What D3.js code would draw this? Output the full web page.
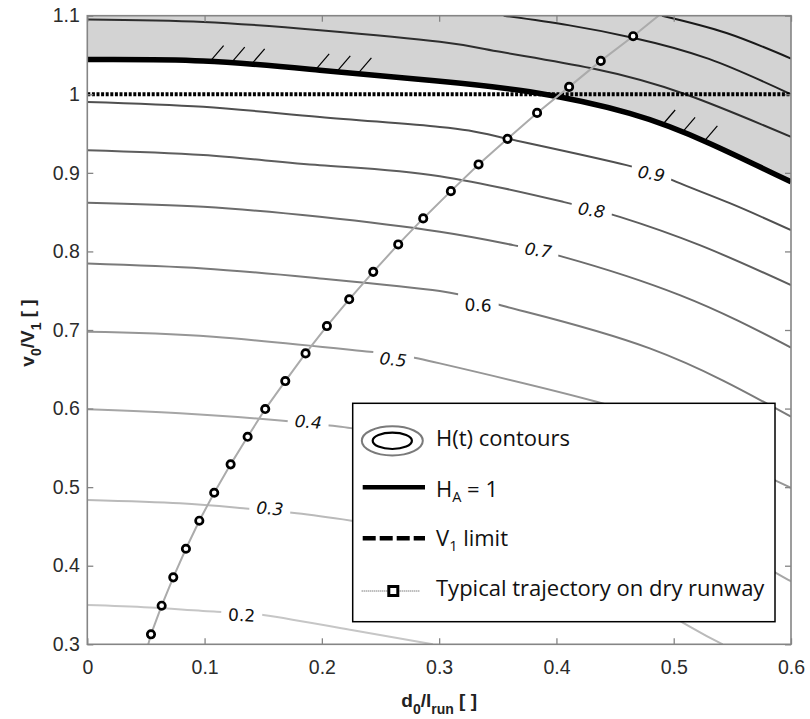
<!DOCTYPE html>
<html>
<head>
<meta charset="utf-8">
<script src="https://cdn.jsdelivr.net/npm/d3@7"></script>
<style>
  html, body { margin: 0; padding: 0; background: #fff; }
  svg { display: block; }
</style>
</head>
<body>
<svg id="chart" width="810" height="719"></svg>
<script>
// ---- axis ticks ----
const xTicks = [0, 0.1, 0.2, 0.3, 0.4, 0.5, 0.6];
const xTickLabels = ["0", "0.1", "0.2", "0.3", "0.4", "0.5", "0.6"];
const yTicks = [0.3, 0.4, 0.5, 0.6, 0.7, 0.8, 0.9, 1.0, 1.1];
const yTickLabels = ["0.3", "0.4", "0.5", "0.6", "0.7", "0.8", "0.9", "1", "1.1"];

// ---- H(t) contour levels, each as [d0/lrun, v0/V1] points ----
const contour02 = [[0, 0.350], [0.0534, 0.3468], [0.1103, 0.3415], [0.150, 0.3373], [0.2253, 0.3182], [0.2836, 0.3029], [0.2946, 0.300]];
const contour03 = [[0, 0.4836], [0.079, 0.4794], [0.133, 0.4730], [0.1785, 0.4667], [0.2253, 0.4573], [0.300, 0.436], [0.400, 0.395], [0.460, 0.367], [0.5137, 0.3224], [0.5418, 0.300]];
const contour04 = [[0, 0.599], [0.079, 0.5939], [0.167, 0.5845], [0.2111, 0.5777], [0.2265, 0.5748], [0.300, 0.556], [0.400, 0.520], [0.500, 0.462], [0.586, 0.392], [0.600, 0.381]];
const contour05 = [[0, 0.6977], [0.1074, 0.6914], [0.2409, 0.6723], [0.3006, 0.6575], [0.4342, 0.6087], [0.500, 0.570], [0.586, 0.509], [0.600, 0.499]];
const contour06 = [[0, 0.7847], [0.0989, 0.7784], [0.1983, 0.7656], [0.3006, 0.7495], [0.3574, 0.7295], [0.4796, 0.6766], [0.600, 0.5896]];
const contour07 = [[0, 0.8618], [0.0989, 0.8567], [0.1983, 0.8440], [0.3006, 0.8249], [0.3631, 0.8080], [0.4057, 0.7931], [0.5052, 0.7444], [0.600, 0.6776]];
const contour08 = [[0, 0.9289], [0.0989, 0.9226], [0.1983, 0.9098], [0.3006, 0.8958], [0.4057, 0.8631], [0.454, 0.8440], [0.5222, 0.8080], [0.600, 0.7571]];
const contour09 = [[0, 0.9903], [0.0989, 0.9840], [0.1983, 0.9712], [0.3006, 0.9585], [0.3574, 0.9438], [0.4597, 0.9098], [0.5023, 0.8885], [0.5478, 0.8614], [0.600, 0.8271]];
const contour11 = [[0, 1.0952], [0.0989, 1.0921], [0.1983, 1.0815], [0.3006, 1.0667], [0.352, 1.054], [0.43, 1.033], [0.51, 1.000], [0.600, 0.9458]];
const contour12 = [[0.355, 1.100], [0.41, 1.088], [0.465, 1.072], [0.53, 1.045], [0.600, 1.000]];
const contour13 = [[0.49, 1.100], [0.545, 1.078], [0.600, 1.0455]];

const contourLevels = [0.2, 0.3, 0.4, 0.5, 0.6, 0.7, 0.8, 0.9, 1.1, 1.2, 1.3];
const contourLines = [contour02, contour03, contour04, contour05, contour06, contour07, contour08, contour09, contour11, contour12, contour13];
const contourColors = ["#c6c6c6", "#bababa", "#a6a6a6", "#969696", "#7a7a7a", "#6c6c6c", "#5e5e5e", "#505050", "#2e2e2e", "#222222", "#1a1a1a"];

// ---- H_A = 1 boundary ----
const haLine = [[0, 1.0443], [0.0989, 1.0425], [0.1983, 1.0307], [0.2963, 1.0173], [0.3773, 1.0031], [0.4625, 0.9756], [0.5307, 0.9374], [0.600, 0.8885]];
const hatchX = [0.106, 0.124, 0.141, 0.196, 0.214, 0.232, 0.491, 0.508, 0.527];

// ---- V1 limit ----
const v1Limit = 1.0;

// ---- typical trajectory on dry runway ----
const trajectory = [
  [0.0543, 0.3127], [0.0634, 0.3491], [0.0733, 0.3852], [0.0841, 0.4216], [0.0955, 0.4573],
  [0.1082, 0.4929], [0.1222, 0.5290], [0.1367, 0.5641], [0.1517, 0.5994], [0.1688, 0.6350],
  [0.1861, 0.6702], [0.2043, 0.7050], [0.2233, 0.7391], [0.2438, 0.7740], [0.2651, 0.8089],
  [0.2864, 0.8420], [0.3100, 0.8767], [0.3336, 0.9107], [0.3583, 0.9433], [0.3835, 0.9763],
  [0.4108, 1.0094], [0.4378, 1.0425], [0.4654, 1.0739]
];
const trajectoryStart = [0.052, 0.300];
const trajectoryEnd = [0.487, 1.100];

// ---- contour labels ----
const contourLabelText = ["0.2", "0.3", "0.4", "0.5", "0.6", "0.7", "0.8", "0.9"];
const contourLabelPos = [[0.1316, 0.3373], [0.1557, 0.4730], [0.1884, 0.5832], [0.2608, 0.6626], [0.3332, 0.7317], [0.3844, 0.8017], [0.4299, 0.8526], [0.4810, 0.8992]];
const contourLabelAngle = [3, 4, 5, 6, 3, 8, 9, 10];
const contourLabelItalic = [false, true, true, true, false, true, true, true];

// ---- legend entries ----
const legendLabels = ["H(t) contours", "H_A = 1", "V_1 limit", "Typical trajectory on dry runway"];

// ================= drawing =================
const svg = d3.select("#chart");
const plot = { left: 87.3, right: 791, top: 15.7, bottom: 644.3 };

const x = d3.scaleLinear().domain([0, 0.6]).range([plot.left, plot.right]);
const y = d3.scaleLinear().domain([0.3, 1.1]).range([plot.bottom, plot.top]);

const defs = svg.append("defs");
defs.append("clipPath").attr("id", "plot-clip")
  .append("rect")
  .attr("x", plot.left).attr("y", plot.top)
  .attr("width", plot.right - plot.left).attr("height", plot.bottom - plot.top);

const curve = d3.curveNatural;
const line = d3.line().x(d => x(d[0])).y(d => y(d[1])).curve(curve);

const body = svg.append("g").attr("clip-path", "url(#plot-clip)");

// shaded region above H_A = 1
body.append("path")
  .datum(haLine)
  .attr("fill", "#d3d3d3")
  .attr("d", d3.area().x(d => x(d[0])).y0(d => y(d[1])).y1(y(1.1)).curve(curve));

// contour labels (measured first so the contour gaps can be sized)
const labelLayer = svg.append("g");
const labelGroups = labelLayer.selectAll("g")
  .data(contourLabelText.map((t, i) => ({ t, p: contourLabelPos[i], a: contourLabelAngle[i], it: contourLabelItalic[i] })))
  .join("g")
  .attr("transform", d => `translate(${x(d.p[0])},${y(d.p[1])}) rotate(${d.a})`);
labelGroups.append("text")
  .attr("text-anchor", "middle")
  .attr("dy", "0.36em")
  .attr("font-family", "DejaVu Sans, Verdana, sans-serif")
  .attr("font-size", 17)
  .attr("font-style", d => d.it ? "italic" : "normal")
  .attr("fill", "#111")
  .text(d => d.t);

// mask that breaks contour lines around their labels
const mask = defs.append("mask").attr("id", "label-gaps").attr("maskUnits", "userSpaceOnUse")
  .attr("x", 0).attr("y", 0).attr("width", 810).attr("height", 719);
mask.append("rect").attr("x", 0).attr("y", 0).attr("width", 810).attr("height", 719).attr("fill", "#fff");
labelGroups.each(function (d) {
  const bb = d3.select(this).select("text").node().getBBox();
  mask.append("rect")
    .attr("transform", `translate(${x(d.p[0])},${y(d.p[1])}) rotate(${d.a})`)
    .attr("x", bb.x - 7).attr("y", bb.y - 3)
    .attr("width", bb.width + 14).attr("height", bb.height + 6)
    .attr("fill", "#000");
});

// contour lines
body.append("g").attr("mask", "url(#label-gaps)")
  .selectAll("path")
  .data(contourLines)
  .join("path")
  .attr("fill", "none")
  .attr("stroke", (d, i) => contourColors[i])
  .attr("stroke-width", 2)
  .attr("d", line);

// H_A = 1 boundary
body.append("path")
  .datum(haLine)
  .attr("fill", "none")
  .attr("stroke", "#000")
  .attr("stroke-width", 5.5)
  .attr("d", line);

// hatch ticks on the unsafe side
const haY = d3.scaleLinear().domain(haLine.map(d => d[0])).range(haLine.map(d => d[1]));
body.append("g").selectAll("line")
  .data(hatchX)
  .join("line")
  .attr("x1", d => x(d)).attr("y1", d => y(haY(d)) - 2)
  .attr("x2", d => x(d) + 12).attr("y2", d => y(haY(d)) - 16)
  .attr("stroke", "#000").attr("stroke-width", 1.2);

// V1 limit
body.append("line")
  .attr("x1", x(0)).attr("x2", x(0.6))
  .attr("y1", y(v1Limit)).attr("y2", y(v1Limit))
  .attr("stroke", "#000").attr("stroke-width", 4)
  .attr("stroke-dasharray", "3,1.6");

// trajectory
body.append("path")
  .datum([trajectoryStart, ...trajectory, trajectoryEnd])
  .attr("fill", "none")
  .attr("stroke", "#ababab")
  .attr("stroke-width", 2)
  .attr("d", d3.line().x(d => x(d[0])).y(d => y(d[1])));
body.append("g").selectAll("circle")
  .data(trajectory)
  .join("circle")
  .attr("cx", d => x(d[0])).attr("cy", d => y(d[1]))
  .attr("r", 3.7)
  .attr("fill", "#fff")
  .attr("stroke", "#000")
  .attr("stroke-width", 2.7);

labelLayer.raise();

// ---- frame and ticks ----
const frame = svg.append("g");
frame.append("rect")
  .attr("x", plot.left).attr("y", plot.top)
  .attr("width", plot.right - plot.left).attr("height", plot.bottom - plot.top)
  .attr("fill", "none").attr("stroke", "#858585").attr("stroke-width", 1.6);

const tickLen = 6;
const axisBottom = d3.axisBottom(x).tickValues(xTicks).tickFormat((d, i) => xTickLabels[i]).tickSizeInner(-tickLen).tickSizeOuter(0).tickPadding(15.5);
const axisTop = d3.axisTop(x).tickValues(xTicks).tickFormat("").tickSizeInner(-tickLen).tickSizeOuter(0);
const axisLeft = d3.axisLeft(y).tickValues(yTicks).tickFormat((d, i) => yTickLabels[i]).tickSizeInner(-tickLen).tickSizeOuter(0).tickPadding(7.5);
const axisRight = d3.axisRight(y).tickValues(yTicks).tickFormat("").tickSizeInner(-tickLen).tickSizeOuter(0);

function styleAxis(g) {
  g.select(".domain").remove();
  g.selectAll(".tick line").attr("stroke", "#858585").attr("stroke-width", 1.3);
  g.selectAll(".tick text")
    .attr("font-family", "Liberation Sans, Arial, sans-serif")
    .attr("font-size", 19.5)
    .attr("fill", "#2b2b2b");
}
svg.append("g").attr("transform", `translate(0,${plot.bottom})`).call(axisBottom).call(styleAxis);
svg.append("g").attr("transform", `translate(0,${plot.top})`).call(axisTop).call(styleAxis);
svg.append("g").attr("transform", `translate(${plot.left},0)`).call(axisLeft).call(styleAxis);
svg.append("g").attr("transform", `translate(${plot.right},0)`).call(axisRight).call(styleAxis);

// axis titles
const xTitle = svg.append("text")
  .attr("x", (plot.left + plot.right) / 2).attr("y", 707)
  .attr("text-anchor", "middle")
  .attr("font-family", "Liberation Sans, Arial, sans-serif")
  .attr("font-size", 19).attr("font-weight", "bold").attr("fill", "#222");
xTitle.append("tspan").text("d");
xTitle.append("tspan").attr("font-size", 14).attr("dy", 7).text("0");
xTitle.append("tspan").attr("dy", -7).text("/l");
xTitle.append("tspan").attr("font-size", 14).attr("dy", 7).text("run");
xTitle.append("tspan").attr("dy", -7).text(" [ ]");

const yTitle = svg.append("text")
  .attr("transform", `translate(34,${(plot.top + plot.bottom) / 2 + 3}) rotate(-90)`)
  .attr("text-anchor", "middle")
  .attr("font-family", "Liberation Sans, Arial, sans-serif")
  .attr("font-size", 19).attr("font-weight", "bold").attr("fill", "#222");
yTitle.append("tspan").text("v");
yTitle.append("tspan").attr("font-size", 14).attr("dy", 7).text("0");
yTitle.append("tspan").attr("dy", -7).text("/V");
yTitle.append("tspan").attr("font-size", 14).attr("dy", 7).text("1");
yTitle.append("tspan").attr("dy", -7).text(" [ ]");

// ---- legend ----
const legend = svg.append("g");
legend.append("rect")
  .attr("x", 352.7).attr("y", 403.3).attr("width", 422.3).attr("height", 218.4)
  .attr("fill", "#fff").attr("stroke", "#000").attr("stroke-width", 1.5);

const legendFont = "Open Sans, Lato, sans-serif";
const legendTextX = 436;
const legendBaselines = [446, 497, 546, 596];

// contour icon
legend.append("ellipse").attr("cx", 392.3).attr("cy", 440.8).attr("rx", 30.5).attr("ry", 14.6)
  .attr("fill", "none").attr("stroke", "#7a7a7a").attr("stroke-width", 2);
legend.append("ellipse").attr("cx", 392.3).attr("cy", 440.8).attr("rx", 19.6).attr("ry", 8.2)
  .attr("fill", "none").attr("stroke", "#000").attr("stroke-width", 2.2);
// H_A line icon
legend.append("line").attr("x1", 362.7).attr("x2", 425).attr("y1", 487.3).attr("y2", 487.3)
  .attr("stroke", "#000").attr("stroke-width", 4.5);
// V1 icon
legend.append("line").attr("x1", 362.7).attr("x2", 425).attr("y1", 538.3).attr("y2", 538.3)
  .attr("stroke", "#000").attr("stroke-width", 4.5).attr("stroke-dasharray", "13,4");
// trajectory icon
legend.append("line").attr("x1", 361.7).attr("x2", 420).attr("y1", 591).attr("y2", 591)
  .attr("stroke", "#444").attr("stroke-width", 1).attr("stroke-dasharray", "1,1");
legend.append("rect").attr("x", 388.8).attr("y", 586.5).attr("width", 9).attr("height", 9)
  .attr("fill", "#fff").attr("stroke", "#000").attr("stroke-width", 3);

legendLabels.forEach((lab, i) => {
  const t = legend.append("text")
    .attr("x", legendTextX).attr("y", legendBaselines[i])
    .attr("font-family", legendFont).attr("font-size", 22).attr("fill", "#111");
  const parts = lab.split("_");
  if (parts.length === 1) {
    t.text(lab);
  } else {
    t.append("tspan").text(parts[0]);
    const rest = parts[1];
    t.append("tspan").attr("font-size", 14.5).attr("dy", 5).text(rest[0]);
    t.append("tspan").attr("dy", -5).text(rest.slice(1));
  }
});
</script>
</body>
</html>
